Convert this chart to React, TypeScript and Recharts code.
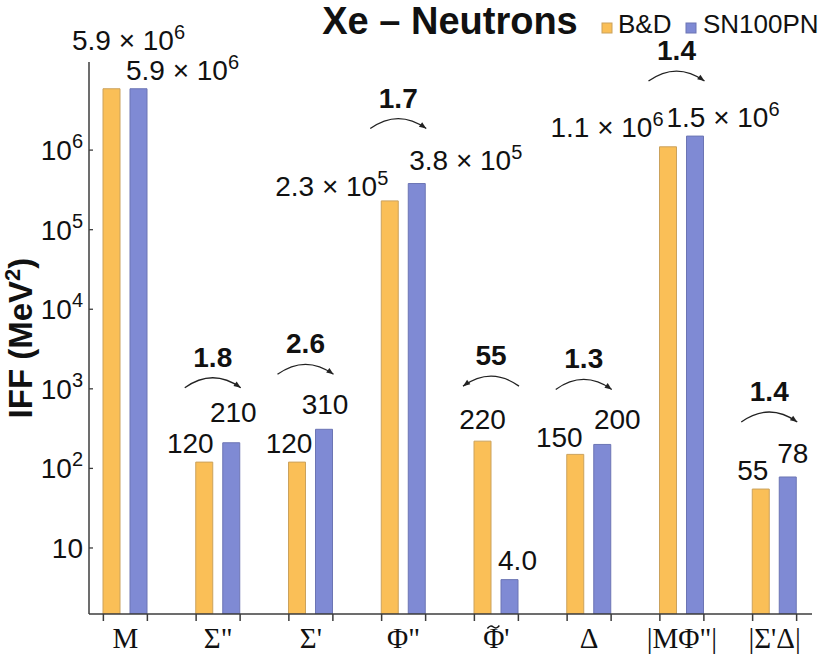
import { BarChart, Bar, XAxis, YAxis, LabelList } from 'recharts';

// categories and values read from the figure
const categories = ['M', 'Σ"', "Σ'", 'Φ"', "Φ̃'", 'Δ', '|MΦ"|', "|Σ'Δ|"];
const bdValues = [5.9e6, 120, 120, 2.3e5, 220, 150, 1.1e6, 55];
const snValues = [5.9e6, 210, 310, 3.8e5, 4.0, 200, 1.5e6, 78];
const ratioLabels = [null, '1.8', '2.6', '1.7', '55', '1.3', '1.4', '1.4'];
const yTicks = [10, 100, 1000, 1e4, 1e5, 1e6];

// label placement nudges [dx, dy] relative to the bar top centre (layout only)
const bdLabelNudge = [[17, -39], [-14, -9], [-8, -9], [-58, -5], [0, -12], [-16, -7], [-61, -10], [-8, -9]];
const snLabelNudge = [[44, -9], [2, -21], [1, -15], [49, -14], [8, -10], [15, -15], [28, -9], [5, -14]];

const SANS = '"Liberation Sans", Arial, sans-serif';
const SERIF = '"Liberation Serif", "Times New Roman", serif';
const AXIS = '#3c3c3c';

const BD_FILL = '#FABF57';
const BD_STROKE = '#CBA25C';
const SN_FILL = '#7F8AD4';
const SN_STROKE = '#6C75B4';

const rows = categories.map((name, i) => ({
    name,
    bd: bdValues[i],
    sn: snValues[i],
    top: Math.max(bdValues[i], snValues[i]),
    ratio: ratioLabels[i],
    up: snValues[i] >= bdValues[i],
}));

const splitValue = (v: number): { base: string; exp?: number } => {
    if (v >= 1e4) {
        const exp = Math.floor(Math.log10(v));
        return { base: `${(v / Math.pow(10, exp)).toFixed(1)} × 10`, exp };
    }
    if (v < 10) return { base: v.toFixed(1) };
    return { base: String(Math.round(v)) };
};

const makeValueLabel = (nudges: number[][]) => (props: any) => {
    const { x, y, width, value, index } = props;
    const [dx, dy] = nudges[index] || [0, -8];
    const { base, exp } = splitValue(Number(value));
    return (
        <text
            x={Number(x) + Number(width) / 2 + dx}
            y={Number(y) + dy}
            textAnchor="middle"
            fontFamily={SANS}
            fontSize={28}
            fill="#111"
        >
            {base}
            {exp !== undefined && (
                <tspan dy={-11} fontSize={20}>{exp}</tspan>
            )}
        </text>
    );
};

const RatioLabel = (props: any) => {
    const { x, y, width, index } = props;
    const row = rows[index];
    if (!row || !row.ratio) return null;
    const cx = Number(x) + Number(width) / 2 - 5;
    const end = Number(y) - 55;
    const x1 = cx - 28;
    const x2 = cx + 28;
    // arrow head along the tangent of the arc
    const tipX = row.up ? x2 : x1;
    const dirX = row.up ? 0.814 : -0.814;
    const dirY = 0.581;
    const len = 7;
    const wing = 2.8;
    const bx = tipX - dirX * len;
    const by = end - dirY * len;
    const head = `M ${tipX} ${end} L ${bx - dirY * wing} ${by + dirX * wing} L ${bx + dirY * wing} ${by - dirX * wing} Z`;
    return (
        <g>
            <path d={`M ${x1} ${end} Q ${cx} ${end - 20} ${x2} ${end}`} fill="none" stroke="#222" strokeWidth={1.3} />
            <path d={head} fill="#222" />
            <text x={cx} y={end - 21} textAnchor="middle" fontFamily={SANS} fontSize={28} fontWeight={700} fill="#111">
                {row.ratio}
            </text>
        </g>
    );
};

const YTick = ({ x, y, payload }: any) => {
    const v = payload.value as number;
    const exp = Math.round(Math.log10(v));
    return (
        <g>
            <line x1={x + 6} x2={x + 10} y1={y} y2={y} stroke={AXIS} strokeWidth={1.3} />
            <text x={x} y={y + 10} textAnchor="end" fontFamily={SANS} fontSize={28} fill="#111">
                10
                {exp > 1 && <tspan dy={-12} fontSize={20}>{exp}</tspan>}
            </text>
        </g>
    );
};

const XTick = ({ x, y, payload }: any) => {
    const label = String(payload.value);
    const hasTilde = label.includes('\u0303');
    // the serif font has no combining tilde, so the accent is drawn over its letter
    const shown = hasTilde ? label.replace('\u0303', '') : label;
    const tx = x - 3;
    const ty = y + 13;
    return (
        <g>
            <line x1={x - 22} x2={x - 22} y1={y} y2={y + 7} stroke={AXIS} strokeWidth={1.5} />
            <line x1={x + 22} x2={x + 22} y1={y} y2={y + 7} stroke={AXIS} strokeWidth={1.5} />
            <text x={x} y={y + 34} textAnchor="middle" fontFamily={SERIF} fontSize={29} fill="#111">
                {shown}
            </text>
            {hasTilde && (
                <path
                    d={`M ${tx - 6} ${ty + 1.5} Q ${tx - 3} ${ty - 2.5} ${tx} ${ty} T ${tx + 6} ${ty - 1.5}`}
                    fill="none"
                    stroke="#111"
                    strokeWidth={1.4}
                />
            )}
        </g>
    );
};

const YLabel = ({ viewBox }: any) => {
    const cx = viewBox.x + 32;
    const cy = viewBox.y + viewBox.height / 2;
    return (
        <text
            x={cx}
            y={cy}
            transform={`rotate(-90, ${cx}, ${cy})`}
            textAnchor="middle"
            fontFamily={SANS}
            fontSize={33}
            fontWeight={700}
            fill="#111"
        >
            IFF (MeV<tspan dy={-12} fontSize={22}>2</tspan><tspan dy={12}>)</tspan>
        </text>
    );
};

const axisPadding = { left: -10, right: -9 };

export default function App() {
    return (
        <div style={{ position: 'relative', width: 830, height: 660 }}>
            <style>{'body { margin: 0; }'}</style>
            <BarChart
                width={830}
                height={660}
                data={rows}
                margin={{ top: 62, right: 18, bottom: 0, left: 0 }}
                barGap={10}
            >
                <XAxis
                    dataKey="name"
                    height={46}
                    padding={axisPadding}
                    tickSize={0}
                    tickMargin={0}
                    interval={0}
                    tick={<XTick />}
                    axisLine={{ stroke: AXIS, strokeWidth: 1.5 }}
                />
                <XAxis xAxisId="ann" dataKey="name" hide padding={axisPadding} />
                <YAxis
                    scale="log"
                    domain={[1.48, 1.28e7]}
                    allowDataOverflow
                    ticks={yTicks}
                    width={89}
                    tickSize={0}
                    tickMargin={6}
                    tick={<YTick />}
                    axisLine={{ stroke: AXIS, strokeWidth: 1.5 }}
                    label={{ content: <YLabel /> }}
                />
                <Bar dataKey="bd" name="B&D" barSize={17} fill={BD_FILL} stroke={BD_STROKE} strokeWidth={1} isAnimationActive={false}>
                    <LabelList dataKey="bd" content={makeValueLabel(bdLabelNudge)} />
                </Bar>
                <Bar dataKey="sn" name="SN100PN" barSize={17} fill={SN_FILL} stroke={SN_STROKE} strokeWidth={1} isAnimationActive={false}>
                    <LabelList dataKey="sn" content={makeValueLabel(snLabelNudge)} />
                </Bar>
                <Bar xAxisId="ann" dataKey="top" barSize={44} fill="none" stroke="none" isAnimationActive={false}>
                    <LabelList dataKey="top" content={RatioLabel} />
                </Bar>
            </BarChart>

            {/* title and legend */}
            <svg width={830} height={60} style={{ position: 'absolute', left: 0, top: 0, pointerEvents: 'none' }}>
                <text x={450} y={34} textAnchor="middle" fontFamily={SANS} fontSize={38} fontWeight={700} fill="#111">
                    Xe – Neutrons
                </text>
                <rect x={602} y={23} width={10} height={10} fill={BD_FILL} stroke={BD_STROKE} />
                <text x={618} y={33} fontFamily={SANS} fontSize={26} fill="#111">B&amp;D</text>
                <rect x={686} y={23} width={10} height={10} fill={SN_FILL} stroke={SN_STROKE} />
                <text x={703} y={33} fontFamily={SANS} fontSize={26} fill="#111">SN100PN</text>
            </svg>
        </div>
    );
}
